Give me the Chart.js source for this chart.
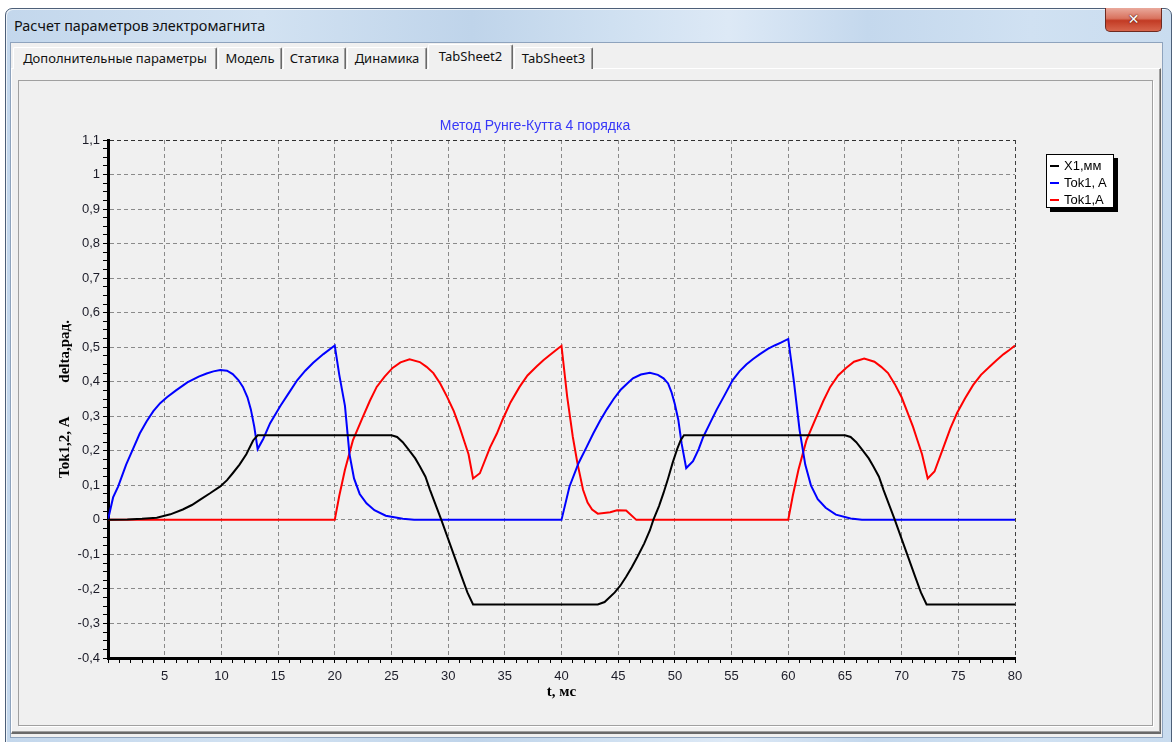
<!DOCTYPE html>
<html lang="ru">
<head>
<meta charset="utf-8">
<title>Расчет параметров электромагнита</title>
<script src="https://cdn.jsdelivr.net/npm/chart.js@4.4.1/dist/chart.umd.min.js"></script>
<style>
  html, body { margin: 0; padding: 0; }
  body { width: 1174px; height: 742px; overflow: hidden; background: #ffffff; position: relative;
         font-family: "Noto Sans", "Open Sans", sans-serif; }
  .abs { position: absolute; box-sizing: border-box; }
  #win { left: 5px; top: 8px; width: 1167px; height: 740px; border: 1px solid #4d5f78;
         border-radius: 7px 7px 0 0;
         background: linear-gradient(90deg, #c3d7ec 0%, #d2e2f2 22%, #bfd4ea 40%, #cfe0f1 52%, #dde9f6 62%, #c4d8ed 74%, #d0e1f2 88%, #c9dcef 100%);
         box-shadow: inset 1px 1px 0 rgba(255,255,255,0.7); }
  #wtitle { left: 14px; top: 16px; font-size: 14.4px; color: #101010; white-space: nowrap; line-height: 20px; }
  #close { left: 1105px; top: 8px; width: 57px; height: 24px; border: 1px solid #6e2a20; border-top: none;
           border-radius: 0 0 5px 5px;
           background: linear-gradient(180deg, #e9a99c 0%, #d9735f 45%, #c23b24 55%, #d7654c 100%);
           color: #ffffff; font-family: "DejaVu Sans", sans-serif; font-weight: bold; font-size: 14px;
           text-align: center; line-height: 22px; text-shadow: 0 0 2px #5a1a10, 0 0 1px #5a1a10; }
  #client { left: 10px; top: 42px; width: 1153px; height: 696px; background: #f0f0f0;
            border: 1px solid #8ea3bd; }
  #page { left: 11px; top: 68px; width: 1150px; height: 666px; background: #f0f0f0;
          border-top: 1px solid #ffffff; border-left: 1px solid #ffffff;
          border-right: 1px solid #696969; border-bottom: 2px solid #696969;
          box-shadow: inset -1px -1px 0 #a0a0a0; }
  .tab { top: 47px; height: 22px; background: #f0f0f0; border-top: 1px solid #ffffff; border-left: 1px solid #ffffff;
         border-right: 1px solid #696969; box-shadow: inset -1px 0 0 #a0a0a0; border-radius: 2px 2px 0 0;
         font-size: 13px; color: #101010; text-align: center; line-height: 20px; white-space: nowrap; }
  .tab.on { top: 44px; height: 25px; z-index: 3; line-height: 22px; }
  #panel { left: 18px; top: 80px; width: 1135px; height: 646px; border: 1px solid #a0a0a0;
           box-shadow: 1px 1px 0 #ffffff; background: #f0f0f0; }
  #plot { left: 18px; top: 80px; }
  #legend { left: 1046px; top: 154px; width: 68px; height: 54px; background: #ffffff; border: 1px solid #000000;
            box-shadow: 4px 4px 0 #000000; font-family: "Liberation Sans", Arial, sans-serif; font-size: 13px; color: #000; }
  .li { position: absolute; left: 3px; height: 17px; line-height: 17px; white-space: nowrap; }
  .li i { display: inline-block; width: 9px; height: 2px; vertical-align: middle; margin-right: 5px; position: relative; top: -1px; }
</style>
</head>
<body>
<div id="win" class="abs"></div>
<div id="wtitle" class="abs">Расчет параметров электромагнита</div>
<div id="close" class="abs">✕</div>
<div id="client" class="abs"></div>
<div id="page" class="abs"></div>
<div class="abs tab" style="left:13px;width:204px;">Дополнительные параметры</div>
<div class="abs tab" style="left:218px;width:64px;">Модель</div>
<div class="abs tab" style="left:283px;width:63px;">Статика</div>
<div class="abs tab" style="left:347px;width:80px;">Динамика</div>
<div class="abs tab on" style="left:428px;width:85px;">TabSheet2</div>
<div class="abs tab" style="left:514px;width:79px;">TabSheet3</div>
<div id="panel" class="abs"></div>
<canvas id="plot" class="abs" width="1034" height="644"></canvas>
<div id="legend" class="abs"></div>

<script>
// Series names and colours
const seriesNames  = ['X1,мм', 'Tok1, A', 'Tok1,A'];
const seriesColors = ['#000000', '#0000ff', '#ff0000'];

// X1, mm (armature displacement)
const tX1 = [0, 1.7, 3, 4.3, 5.5, 6.6, 7.4, 8.1, 9, 9.9, 10.5, 11, 11.6, 12.2, 12.8, 13.2,
             25, 25.5, 26, 26.6, 27.1, 27.5, 28, 28.4, 29, 29.4, 30, 30.6, 31.2, 31.7, 32.2,
             43.2, 43.8, 44.7, 45.2, 45.7, 46.2, 46.7, 47.3, 47.8, 48.1, 48.6, 49, 49.4, 49.8, 50.2, 50.5, 50.8,
             65, 65.5, 66, 66.6, 67.1, 67.5, 68, 68.4, 69, 69.4, 70, 70.6, 71.2, 71.7, 72.2, 80];
const vX1 = [0, 0.001, 0.003, 0.006, 0.016, 0.03, 0.043, 0.058, 0.077, 0.097, 0.115, 0.135, 0.16, 0.19, 0.23, 0.245,
             0.245, 0.24, 0.225, 0.2, 0.178, 0.155, 0.125, 0.087, 0.035, 0, -0.055, -0.11, -0.165, -0.21, -0.245,
             -0.245, -0.238, -0.21, -0.19, -0.165, -0.137, -0.107, -0.068, -0.03, 0, 0.04, 0.078, 0.12, 0.165, 0.205, 0.23, 0.245,
             0.245, 0.24, 0.225, 0.2, 0.178, 0.155, 0.125, 0.087, 0.035, 0, -0.055, -0.11, -0.165, -0.21, -0.245, -0.245];

// Tok1, A (first winding current)
const tTokA = [0, 0.45, 0.9, 1.6, 2.2, 2.8, 3.4, 4, 4.6, 5.2, 6, 7, 8, 8.7, 9.3, 9.9, 10.5, 11, 11.5, 11.9, 12.3, 12.6, 12.9, 13.2,
               13.7, 14.3, 15.2, 16, 16.7, 17.4, 18.1, 19, 20, 20.4, 20.9, 21.3, 21.7, 22.2, 22.8, 23.5, 24.5, 26, 27,
               40, 40.7, 41.5, 42.2, 42.8, 43.4, 44, 44.6, 45.2, 45.8, 46.3, 47, 47.8, 48.5, 49, 49.4, 49.7, 50, 50.3, 50.6, 51,
               51.6, 52.1, 52.5, 53.1, 53.7, 54.4, 55.1, 55.7, 56.3, 56.9, 57.5, 58.2, 58.8, 59.4, 60,
               60.5, 61, 61.5, 62, 62.6, 63.3, 64.2, 65.5, 66.5, 80];
const vTokA = [0, 0.065, 0.097, 0.16, 0.205, 0.25, 0.285, 0.315, 0.338, 0.355, 0.375, 0.398, 0.415, 0.424, 0.43, 0.434, 0.432, 0.422, 0.405, 0.385, 0.355, 0.32, 0.27, 0.205,
               0.235, 0.28, 0.33, 0.37, 0.405, 0.432, 0.455, 0.48, 0.505, 0.42, 0.33, 0.19, 0.12, 0.075, 0.048, 0.028, 0.012, 0.003, 0,
               0, 0.096, 0.164, 0.21, 0.25, 0.287, 0.32, 0.35, 0.376, 0.395, 0.41, 0.421, 0.426, 0.42, 0.41, 0.395, 0.37, 0.335, 0.29, 0.22, 0.15,
               0.17, 0.205, 0.24, 0.28, 0.32, 0.362, 0.405, 0.43, 0.45, 0.466, 0.48, 0.495, 0.505, 0.514, 0.524,
               0.4, 0.26, 0.16, 0.1, 0.06, 0.035, 0.015, 0.004, 0, 0];

// Tok1,A (second winding current)
const tTokB = [0, 20, 20.4, 20.9, 21.6, 22.5, 23.1, 23.7, 24.4, 25.1, 25.8, 26.6, 27.5, 28.1, 28.7, 29.3, 29.9, 30.5, 31, 31.4, 31.8, 32.2,
               32.8, 33.7, 34.3, 34.8, 35.5, 36.3, 37, 37.8, 38.4, 39, 39.5, 40,
               40.5, 41, 41.4, 41.9, 42.3, 42.7, 43.2, 44.3, 44.9, 45.7, 46.6,
               60, 60.4, 60.9, 61.6, 62.5, 63.1, 63.7, 64.4, 65.1, 65.8, 66.7, 67.6, 68.2, 68.8, 69.4, 70, 70.5, 71, 71.4, 71.8, 72.3,
               72.9, 73.8, 74.3, 74.9, 75.6, 76.3, 77, 77.8, 78.4, 79, 79.5, 80];
const vTokB = [0, 0, 0.07, 0.145, 0.23, 0.3, 0.345, 0.385, 0.415, 0.44, 0.456, 0.465, 0.457, 0.443, 0.425, 0.395, 0.357, 0.315, 0.27, 0.23, 0.19, 0.12,
               0.135, 0.21, 0.25, 0.29, 0.34, 0.385, 0.418, 0.444, 0.462, 0.478, 0.491, 0.504,
               0.357, 0.24, 0.165, 0.087, 0.05, 0.03, 0.018, 0.022, 0.028, 0.027, 0,
               0, 0.07, 0.145, 0.23, 0.3, 0.345, 0.385, 0.418, 0.44, 0.458, 0.467, 0.458, 0.443, 0.425, 0.393, 0.355, 0.313, 0.27, 0.23, 0.19, 0.12,
               0.14, 0.22, 0.265, 0.31, 0.352, 0.39, 0.42, 0.445, 0.463, 0.48, 0.492, 0.505];

// Axis ranges and titles
const xRange = [0, 80];
const yRange = [-0.4, 1.1];
const chartTitle = 'Метод Рунге-Кутта 4 порядка';
const xTitle = 't, мс';
const yTitle = 'Tok1,2, A         delta,рад.';

const toPoints = (ts, vs) => ts.map((t, i) => ({ x: t, y: vs[i] }));
const isMajorY = v => Math.abs(v * 10 - Math.round(v * 10)) < 1e-6;
const isMajorX = v => Math.abs(v / 5 - Math.round(v / 5)) < 1e-6;
const fmtY = v => String(Math.round(v * 10) / 10).replace('.', ',');

const tickFont = { family: '"Liberation Sans", Arial, sans-serif', size: 13 };
const titleFont = { family: '"Liberation Serif", "Times New Roman", serif', size: 15, weight: 'bold' };

const datasets = [
  { label: seriesNames[0], data: toPoints(tX1, vX1),   borderColor: seriesColors[0] },
  { label: seriesNames[1], data: toPoints(tTokA, vTokA), borderColor: seriesColors[1] },
  { label: seriesNames[2], data: toPoints(tTokB, vTokB), borderColor: seriesColors[2] }
].map(d => Object.assign(d, { borderWidth: 2, pointRadius: 0, tension: 0, fill: false }));

new Chart(document.getElementById('plot'), {
  type: 'line',
  data: { datasets },
  options: {
    responsive: false,
    animation: false,
    devicePixelRatio: 1,
    layout: { padding: { left: 37, right: 37, top: 0, bottom: 0 } },
    plugins: {
      legend: { display: false },
      tooltip: { enabled: false },
      title: {
        display: true, text: chartTitle, color: '#3838f8',
        font: { family: '"Liberation Sans", Arial, sans-serif', size: 14, weight: 'normal' },
        padding: { top: 38, bottom: 5.2 }
      }
    },
    scales: {
      x: {
        type: 'linear', min: xRange[0], max: xRange[1],
        afterFit: s => { s.height = 66; },
        ticks: {
          stepSize: 1, autoSkip: false, maxRotation: 0, padding: 6, color: '#1c1c28', font: tickFont,
          callback: v => (isMajorX(v) && v !== 0) ? String(v) : ''
        },
        grid: {
          tickLength: 5, tickColor: '#000', lineWidth: 1,
          color: c => !isMajorX(c.tick.value) || c.tick.value === xRange[0] ? 'rgba(0,0,0,0)'
                     : (c.tick.value === xRange[1] ? '#404040' : '#8a8a8a')
        },
        border: { color: '#000', width: 3, dash: [4, 3] },
        title: { display: true, text: xTitle, color: '#000', font: titleFont, padding: { top: 0, bottom: 23 } }
      },
      y: {
        type: 'linear', min: yRange[0], max: yRange[1],
        afterFit: s => { s.width = 53; },
        ticks: {
          stepSize: 0.025, autoSkip: false, padding: 3, color: '#1c1c28', font: tickFont,
          callback: v => isMajorY(v) ? fmtY(v) : ''
        },
        grid: {
          tickLength: 5, tickColor: '#000', lineWidth: 1,
          color: c => !isMajorY(c.tick.value) || Math.abs(c.tick.value - yRange[0]) < 1e-6 ? 'rgba(0,0,0,0)'
                     : (Math.abs(c.tick.value - yRange[1]) < 1e-6 ? '#303030' : '#8a8a8a')
        },
        border: { color: '#000', width: 3, dash: [4, 3] },
        title: { display: true, text: yTitle, color: '#000', font: titleFont, padding: { top: 1, bottom: 0 } }
      }
    }
  }
});

// Legend box
const legend = document.getElementById('legend');
seriesNames.forEach((name, i) => {
  const row = document.createElement('div');
  row.className = 'li';
  row.style.top = (2 + i * 17) + 'px';
  const sw = document.createElement('i');
  sw.style.background = seriesColors[i];
  row.appendChild(sw);
  row.appendChild(document.createTextNode(name));
  legend.appendChild(row);
});
</script>
</body>
</html>
